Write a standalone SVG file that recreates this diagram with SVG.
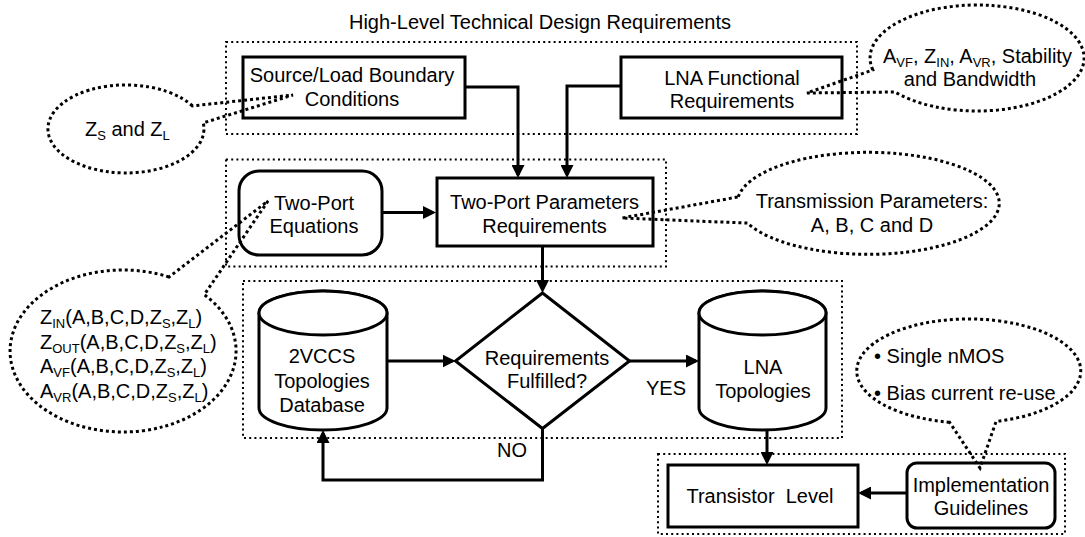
<svg xmlns="http://www.w3.org/2000/svg" width="1085" height="537" viewBox="0 0 1085 537">
<style>
.t{font-family:"Liberation Sans",Arial,Helvetica,sans-serif;font-size:20px;fill:#000}
.m{text-anchor:middle}
.s{font-size:13px}
.box{fill:#fff;stroke:#000;stroke-width:3}
.grp{fill:none;stroke:#000;stroke-width:2;stroke-dasharray:2 3.2}
.bub{fill:none;stroke:#000;stroke-width:3;stroke-dasharray:3 3}
.ln{fill:none;stroke:#000;stroke-width:3;marker-end:url(#ah)}
</style>
<defs>
<marker id="ah" markerUnits="userSpaceOnUse" markerWidth="13" markerHeight="13" viewBox="0 0 13 13" refX="10" refY="6.5" orient="auto">
<path d="M0,0 L13,6.5 L0,13 z" fill="#000"/>
</marker>
</defs>
<rect width="1085" height="537" fill="#fff"/>

<g id="groups">
<rect class="grp" x="226" y="42" width="631" height="92"/>
<rect class="grp" x="226" y="159.5" width="440" height="107"/>
<rect class="grp" x="243" y="281" width="599" height="157"/>
<rect class="grp" x="658" y="454" width="407" height="80"/>
<text class="t m" x="540" y="29">High-Level Technical Design Requirements</text>
</g>

<g id="connectors">
<path class="ln" d="M465,87 H518 V175"/>
<path class="ln" d="M621,86 H567 V175"/>
<path class="ln" d="M382,212.5 H433"/>
<path class="ln" d="M542.5,247 V290"/>
<path class="ln" d="M387,361 H452.5"/>
<path class="ln" d="M629.5,361 H696"/>
<path class="ln" d="M542.5,428.5 V480 H323 V433"/>
<path class="ln" d="M767,430 V462"/>
<path class="ln" d="M907,493 H861"/>
<text class="t m" x="666" y="395">YES</text>
<text class="t m" x="512" y="457">NO</text>
</g>

<g id="source-load">
<rect class="box" x="243" y="57" width="222" height="61"/>
<text class="t m" x="352" y="82">Source/Load Boundary</text>
<text class="t m" x="352" y="106">Conditions</text>
</g>

<g id="lna-functional">
<rect class="box" x="621" y="57" width="221" height="61"/>
<text class="t m" x="732" y="85">LNA Functional</text>
<text class="t m" x="732" y="108">Requirements</text>
</g>

<g id="two-port-equations">
<rect class="box" x="239" y="171" width="143" height="84" rx="20"/>
<text class="t m" x="314" y="210">Two-Port</text>
<text class="t m" x="314" y="233">Equations</text>
</g>

<g id="two-port-parameters">
<rect class="box" x="437" y="178" width="216" height="68"/>
<text class="t m" x="544.5" y="209">Two-Port Parameters</text>
<text class="t m" x="544.5" y="233">Requirements</text>
</g>

<g id="decision">
<polygon class="box" points="542.5,293 629.5,361 542.5,428.5 455.5,361"/>
<text class="t m" x="547" y="365">Requirements</text>
<text class="t m" x="547" y="388">Fulfilled?</text>
</g>

<g id="vccs-database">
<path class="box" d="M259,313 V408 A64,22 0 0 0 387,408 V313 A64,22 0 0 0 259,313 Z"/>
<ellipse class="box" cx="323" cy="313" rx="64" ry="22"/>
<text class="t m" x="322" y="363">2VCCS</text>
<text class="t m" x="322" y="388">Topologies</text>
<text class="t m" x="322" y="412">Database</text>
</g>

<g id="lna-topologies">
<path class="box" d="M699,313 V408 A63.5,22 0 0 0 826,408 V313 A63.5,22 0 0 0 699,313 Z"/>
<ellipse class="box" cx="762.5" cy="313" rx="63.5" ry="22"/>
<text class="t m" x="763" y="374">LNA</text>
<text class="t m" x="763" y="398">Topologies</text>
</g>

<g id="transistor-level">
<rect class="box" x="668" y="465" width="190" height="62"/>
<text class="t m" x="760" y="503" xml:space="preserve" style="white-space:pre">Transistor  Level</text>
</g>

<g id="implementation-guidelines">
<rect class="box" x="907" y="463" width="148" height="65" rx="10"/>
<text class="t m" x="981" y="492">Implementation</text>
<text class="t m" x="981" y="515">Guidelines</text>
</g>

<g id="callout-zs-zl">
<path class="bub" d="M192.4,105.9 A78,44 0 1 0 203.2,122.9 L293,95 Z"/>
<text class="t" x="85" y="136">Z<tspan class="s" dy="4">S</tspan><tspan dy="-4"> and  Z</tspan><tspan class="s" dy="4">L</tspan></text>
</g>

<g id="callout-functional">
<path class="bub" d="M872.8,69.9 A107,53 0 1 1 895,92 L807,93 Z"/>
<text class="t" x="883" y="63">A<tspan class="s" dy="4">VF</tspan><tspan dy="-4">, Z</tspan><tspan class="s" dy="4">IN</tspan><tspan dy="-4">, A</tspan><tspan class="s" dy="4">VR</tspan><tspan dy="-4">, Stability</tspan></text>
<text class="t m" x="970" y="86">and Bandwidth</text>
</g>

<g id="callout-transmission">
<path class="bub" d="M738.3,196.9 A131,51 0 1 1 747.5,223.1 L622,218 Z"/>
<text class="t m" x="872" y="208">Transmission Parameters:</text>
<text class="t m" x="872" y="232">A, B, C and D</text>
</g>

<g id="callout-equations">
<path class="bub" d="M169,277 A113,81 0 1 0 204.3,294.7 L268,201 Z"/>
<text class="t" x="40" y="324">Z<tspan class="s" dy="4">IN</tspan><tspan dy="-4">(A,B,C,D,Z</tspan><tspan class="s" dy="4">S</tspan><tspan dy="-4">,Z</tspan><tspan class="s" dy="4">L</tspan><tspan dy="-4">)</tspan></text>
<text class="t" x="40" y="348.5">Z<tspan class="s" dy="4">OUT</tspan><tspan dy="-4">(A,B,C,D,Z</tspan><tspan class="s" dy="4">S</tspan><tspan dy="-4">,Z</tspan><tspan class="s" dy="4">L</tspan><tspan dy="-4">)</tspan></text>
<text class="t" x="40" y="373">A<tspan class="s" dy="4">VF</tspan><tspan dy="-4">(A,B,C,D,Z</tspan><tspan class="s" dy="4">S</tspan><tspan dy="-4">,Z</tspan><tspan class="s" dy="4">L</tspan><tspan dy="-4">)</tspan></text>
<text class="t" x="40" y="397.5">A<tspan class="s" dy="4">VR</tspan><tspan dy="-4">(A,B,C,D,Z</tspan><tspan class="s" dy="4">S</tspan><tspan dy="-4">,Z</tspan><tspan class="s" dy="4">L</tspan><tspan dy="-4">)</tspan></text>
</g>

<g id="callout-guidelines">
<path class="bub" d="M949.5,422.2 A112,52 0 1 1 996.1,421.4 L980,468 Z"/>
<text class="t" x="874" y="363">• Single nMOS</text>
<text class="t" x="874" y="400">• Bias current re-use</text>
</g>
</svg>
